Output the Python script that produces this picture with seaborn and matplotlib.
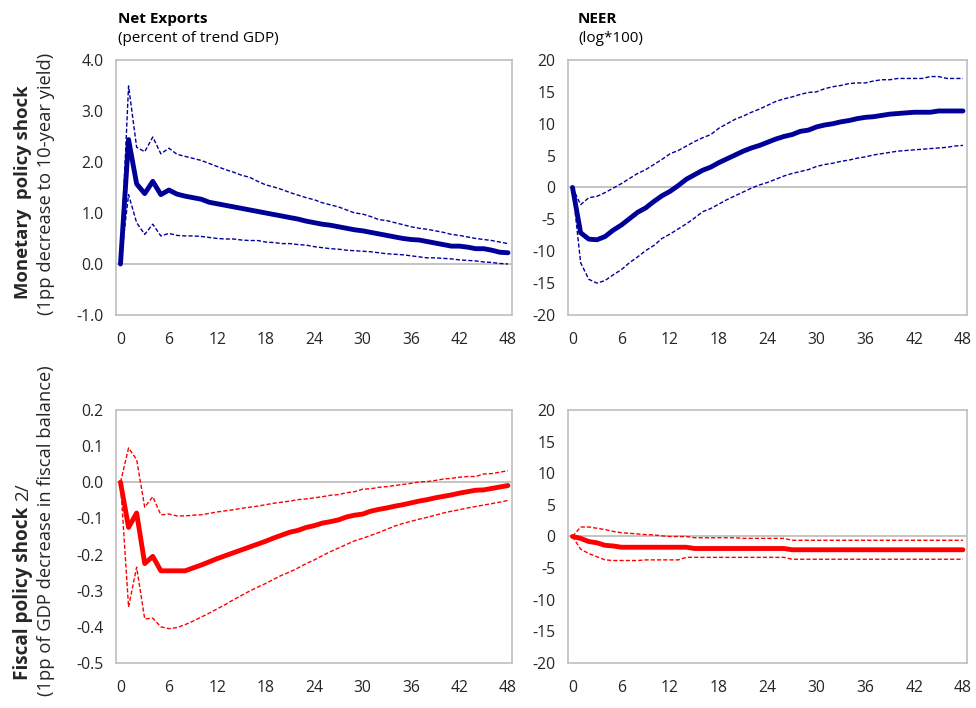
import pandas as pd
import seaborn as sns
import matplotlib.pyplot as plt

# impulse responses, horizon 0..48 (months)
HORIZON = list(range(49))
X_TICKS = [0, 6, 12, 18, 24, 30, 36, 42, 48]
NX_MP_TICKS = [-1.0, 0.0, 1.0, 2.0, 3.0, 4.0]
NX_FP_TICKS = [-0.5, -0.4, -0.3, -0.2, -0.1, 0.0, 0.1, 0.2]
NEER_TICKS = [-20, -15, -10, -5, 0, 5, 10, 15, 20]

# monetary policy shock -> net exports (percent of trend GDP)
MP_NX_MID = [0, 2.44, 1.57, 1.38, 1.62, 1.36, 1.45, 1.37, 1.33, 1.30, 1.27, 1.21, 1.18,
             1.15, 1.12, 1.09, 1.06, 1.03, 1.00, 0.97, 0.94, 0.91, 0.88, 0.84, 0.81,
             0.78, 0.76, 0.73, 0.70, 0.67, 0.65, 0.62, 0.59, 0.56, 0.53, 0.50, 0.48,
             0.47, 0.44, 0.41, 0.38, 0.35, 0.35, 0.33, 0.30, 0.30, 0.27, 0.23, 0.22]
MP_NX_HI = [0, 3.49, 2.29, 2.20, 2.49, 2.16, 2.27, 2.15, 2.11, 2.07, 2.03, 1.97, 1.91,
            1.85, 1.80, 1.74, 1.70, 1.62, 1.55, 1.51, 1.46, 1.40, 1.35, 1.30, 1.26,
            1.20, 1.16, 1.12, 1.06, 1.00, 0.98, 0.93, 0.87, 0.85, 0.81, 0.77, 0.73,
            0.70, 0.68, 0.65, 0.62, 0.58, 0.56, 0.53, 0.50, 0.48, 0.46, 0.43, 0.40]
MP_NX_LO = [0, 1.36, 0.81, 0.58, 0.78, 0.55, 0.60, 0.56, 0.55, 0.55, 0.54, 0.52, 0.50,
            0.49, 0.49, 0.47, 0.46, 0.46, 0.43, 0.42, 0.40, 0.40, 0.38, 0.37, 0.34,
            0.32, 0.30, 0.29, 0.27, 0.26, 0.25, 0.24, 0.22, 0.20, 0.19, 0.18, 0.16,
            0.14, 0.12, 0.12, 0.11, 0.10, 0.08, 0.07, 0.06, 0.04, 0.03, 0.01, 0.00]

# monetary policy shock -> NEER (log*100)
MP_NEER_MID = [0, -7.1, -8.1, -8.2, -7.7, -6.7, -5.9, -4.9, -3.9, -3.2, -2.2, -1.3, -0.6,
               0.3, 1.3, 2.0, 2.7, 3.2, 3.9, 4.5, 5.1, 5.7, 6.2, 6.6, 7.1,
               7.6, 8.0, 8.3, 8.8, 9.0, 9.5, 9.8, 10.0, 10.3, 10.5, 10.8, 11.0,
               11.1, 11.3, 11.5, 11.6, 11.7, 11.8, 11.8, 11.8, 12.0, 12.0, 12.0, 12.0]
MP_NEER_HI = [0, -2.7, -1.6, -1.4, -0.8, -0.1, 0.6, 1.4, 2.2, 2.8, 3.6, 4.4, 5.3,
              5.8, 6.5, 7.2, 7.8, 8.3, 9.3, 10.0, 10.7, 11.2, 11.8, 12.3, 12.9,
              13.5, 13.9, 14.2, 14.6, 14.9, 15.0, 15.5, 15.8, 16.0, 16.3, 16.4, 16.4,
              16.7, 16.9, 16.9, 17.1, 17.1, 17.1, 17.1, 17.4, 17.4, 17.1, 17.1, 17.1]
MP_NEER_LO = [0, -11.8, -14.4, -15.0, -14.6, -13.7, -12.9, -11.8, -10.9, -9.9, -9.1, -8.0, -7.3,
              -6.5, -5.7, -4.8, -3.8, -3.3, -2.6, -1.9, -1.3, -0.7, -0.1, 0.4, 0.8,
              1.3, 1.8, 2.2, 2.5, 2.8, 3.3, 3.6, 3.8, 4.1, 4.3, 4.6, 4.8,
              5.1, 5.3, 5.5, 5.7, 5.8, 5.9, 6.0, 6.1, 6.2, 6.3, 6.5, 6.6]

# fiscal policy shock -> net exports
FP_NX_MID = [0, -0.125, -0.085, -0.225, -0.205, -0.245, -0.245, -0.245, -0.245, -0.237,
             -0.229, -0.220, -0.211, -0.203, -0.195, -0.187, -0.179, -0.171, -0.163,
             -0.154, -0.146, -0.138, -0.133, -0.125, -0.120, -0.113, -0.109, -0.104,
             -0.096, -0.091, -0.088, -0.080, -0.075, -0.071, -0.066, -0.062, -0.057,
             -0.052, -0.048, -0.043, -0.039, -0.035, -0.030, -0.026, -0.022, -0.021,
             -0.017, -0.013, -0.009]
FP_NX_HI = [0, 0.095, 0.063, -0.069, -0.040, -0.090, -0.088, -0.093, -0.093, -0.091,
            -0.090, -0.086, -0.082, -0.079, -0.076, -0.072, -0.069, -0.066, -0.062,
            -0.058, -0.055, -0.052, -0.048, -0.046, -0.043, -0.040, -0.036, -0.034,
            -0.029, -0.026, -0.019, -0.018, -0.014, -0.012, -0.009, -0.006, -0.003,
            0.001, 0.002, 0.005, 0.009, 0.011, 0.014, 0.016, 0.016, 0.023,
            0.024, 0.028, 0.032]
FP_NX_LO = [0, -0.345, -0.235, -0.378, -0.376, -0.400, -0.405, -0.402, -0.394, -0.384,
            -0.373, -0.362, -0.350, -0.338, -0.325, -0.313, -0.301, -0.290, -0.280,
            -0.268, -0.257, -0.248, -0.237, -0.225, -0.215, -0.203, -0.192, -0.182,
            -0.172, -0.162, -0.155, -0.147, -0.139, -0.130, -0.121, -0.114, -0.108,
            -0.102, -0.097, -0.091, -0.085, -0.080, -0.076, -0.071, -0.067, -0.063,
            -0.059, -0.055, -0.050]

# fiscal policy shock -> NEER
FP_NEER_MID = [0, -0.3, -0.8, -1.0, -1.4, -1.5, -1.7, -1.7, -1.7, -1.7, -1.7, -1.7, -1.7,
               -1.7, -1.7, -1.9, -1.9, -1.9, -1.9, -1.9, -1.9, -1.9, -1.9, -1.9, -1.9,
               -1.9, -1.9, -2.1, -2.1, -2.1, -2.1, -2.1, -2.1, -2.1, -2.1, -2.1, -2.1,
               -2.1, -2.1, -2.1, -2.1, -2.1, -2.1, -2.1, -2.1, -2.1, -2.1, -2.1, -2.1]
FP_NEER_HI = [0, 1.5, 1.5, 1.3, 1.1, 0.8, 0.6, 0.5, 0.4, 0.3, 0.25, 0.1, 0.0,
              0.0, 0.0, -0.2, -0.2, -0.2, -0.2, -0.2, -0.2, -0.3, -0.3, -0.3, -0.3,
              -0.3, -0.3, -0.6, -0.6, -0.6, -0.6, -0.6, -0.6, -0.6, -0.6, -0.6, -0.6,
              -0.6, -0.6, -0.6, -0.6, -0.6, -0.6, -0.6, -0.6, -0.6, -0.6, -0.6, -0.6]
FP_NEER_LO = [0, -2.0, -2.7, -3.2, -3.7, -3.8, -3.8, -3.8, -3.8, -3.7, -3.7, -3.7, -3.7,
              -3.7, -3.3, -3.3, -3.3, -3.3, -3.3, -3.3, -3.3, -3.3, -3.3, -3.3, -3.3,
              -3.3, -3.3, -3.6, -3.6, -3.6, -3.6, -3.6, -3.6, -3.6, -3.6, -3.6, -3.6,
              -3.6, -3.6, -3.6, -3.6, -3.6, -3.6, -3.6, -3.6, -3.6, -3.6, -3.6, -3.6]

BLUE = "#000099"
RED = "#FF0000"
GRID = "#BFBFBF"
TXT = "#262626"


def draw_panel(ax, mid, hi, lo, color, ylim, yticks, fmt):
    df = pd.DataFrame({"h": HORIZON, "mid": mid, "hi": hi, "lo": lo})
    ax.axhline(0, color=GRID, linewidth=1.3, zorder=1)
    for col in ["hi", "lo"]:
        sns.lineplot(data=df, x="h", y=col, ax=ax, color=color, linewidth=1.0,
                     linestyle=(0, (3, 1.5)), zorder=2)
    sns.lineplot(data=df, x="h", y="mid", ax=ax, color=color, linewidth=3.5,
                 zorder=3, solid_joinstyle="round", solid_capstyle="round")
    ax.set_xlim(-0.55, 48.5)
    ax.set_ylim(*ylim)
    ax.set_xticks(X_TICKS)
    ax.set_yticks(yticks)
    ax.set_yticklabels([fmt.format(v) for v in yticks])
    ax.set(xlabel="", ylabel="")
    for s in ax.spines.values():
        s.set_color(GRID)
        s.set_linewidth(1.2)
    ax.tick_params(axis="x", length=0, pad=12, labelsize=11.3, labelcolor=TXT)
    ax.tick_params(axis="y", length=4, width=1, color=GRID, pad=5,
                   labelsize=11.3, labelcolor=TXT)


def main():
    sns.set_style("white")
    plt.rcParams["font.family"] = ["Open Sans", "DejaVu Sans"]
    fig = plt.figure(figsize=(9.76, 7.08), dpi=100)
    ax_tl = fig.add_axes([0.1189, 0.5551, 0.4057, 0.3602])
    ax_tr = fig.add_axes([0.5820, 0.5551, 0.4088, 0.3602])
    ax_bl = fig.add_axes([0.1189, 0.0636, 0.4057, 0.3573])
    ax_br = fig.add_axes([0.5820, 0.0636, 0.4088, 0.3573])

    draw_panel(ax_tl, MP_NX_MID, MP_NX_HI, MP_NX_LO, BLUE, (-1, 4),
               NX_MP_TICKS, "{:.1f}")
    draw_panel(ax_tr, MP_NEER_MID, MP_NEER_HI, MP_NEER_LO, BLUE, (-20, 20),
               NEER_TICKS, "{:d}")
    draw_panel(ax_bl, FP_NX_MID, FP_NX_HI, FP_NX_LO, RED, (-0.5, 0.2),
               NX_FP_TICKS, "{:.1f}")
    draw_panel(ax_br, FP_NEER_MID, FP_NEER_HI, FP_NEER_LO, RED, (-20, 20),
               NEER_TICKS, "{:d}")

    # column titles
    for x, bold, sub in [(118, "Net Exports", "(percent of trend GDP)"),
                         (578, "NEER", "(log*100)")]:
        fig.text(x / 976, 1 - 19 / 708, bold, fontsize=11, fontweight="bold",
                 va="center", color="black")
        fig.text(x / 976, 1 - 38 / 708, sub, fontsize=11, va="center",
                 color="black")

    # row labels
    fig.text(23.5 / 976, 1 - 192 / 708, "Monetary  policy shock", rotation=90,
             fontsize=13.3, fontweight="bold", ha="center", va="center")
    fig.text(46 / 976, 1 - 184 / 708, "(1pp decrease to 10-year yield)",
             rotation=90, fontsize=13.2, ha="center", va="center")

    renderer = fig.canvas.get_renderer()
    t_bold = fig.text(23.5 / 976, 1 - 680 / 708, "Fiscal policy shock", rotation=90,
                      fontsize=13.6, fontweight="bold", ha="center", va="bottom")
    bb = t_bold.get_window_extent(renderer=renderer).transformed(
        fig.transFigure.inverted())
    fig.text(23.5 / 976, bb.y1 + 0.008, "2/", rotation=90, fontsize=13.6,
             ha="center", va="bottom")
    fig.text(46 / 976, 1 - 531 / 708, "(1pp of GDP decrease in fiscal balance)",
             rotation=90, fontsize=13.2, ha="center", va="center")

    fig.savefig("out.png", dpi=100)


if __name__ == "__main__":
    main()
